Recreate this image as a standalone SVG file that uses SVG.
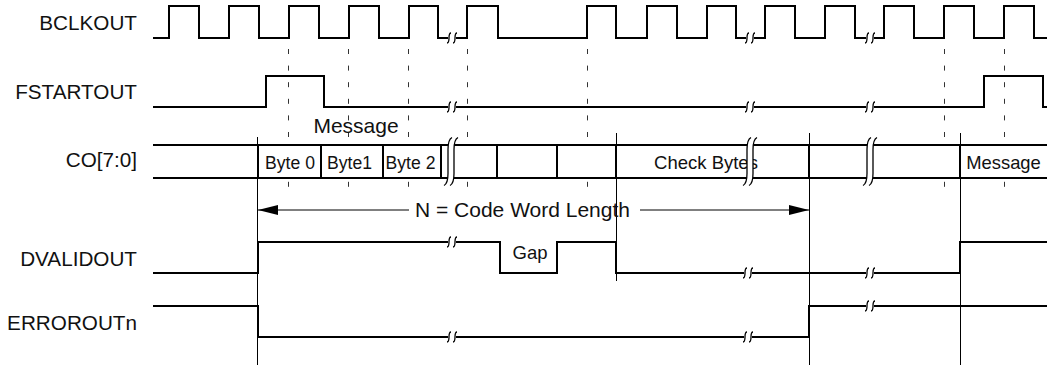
<svg xmlns="http://www.w3.org/2000/svg" xmlns:xlink="http://www.w3.org/1999/xlink" width="1047" height="365" viewBox="0 0 1047 365">
<style>
  .sig{fill:none;stroke:#000;stroke-width:2;stroke-linejoin:miter;stroke-linecap:butt}
  .thin{fill:none;stroke:#000;stroke-width:1}
  .dash{fill:none;stroke:#333;stroke-width:1;stroke-dasharray:5 11.6}
  .lbl{font-family:"Liberation Sans",Arial,sans-serif;font-size:20.7px;fill:#111;text-anchor:end}
  .txt{font-family:"Liberation Sans",Arial,sans-serif;fill:#111;text-anchor:middle}
  .brk{fill:none;stroke:#000;stroke-width:1.3}
</style>
<defs>
  <marker id="ah" viewBox="0 0 20 10" refX="20" refY="5" markerWidth="20" markerHeight="10" orient="auto" markerUnits="userSpaceOnUse">
    <path d="M0,0 L20,5 L0,10 z" fill="#000"/>
  </marker>
  <g id="sb">
    <rect x="-4" y="-4" width="8" height="8" fill="#fff"/>
    <path class="brk" d="M-5,5 C-3,5 -3,3 -3,0 C-3,-3 -3,-5 -1,-5"/>
    <path class="brk" d="M1,5 C3,5 3,3 3,0 C3,-3 3,-5 5,-5"/>
  </g>
  <g id="bb">
    <path d="M1,-24 Q-3,-22 -3,-12 L-3,12 Q-3,22 -7,24 L-1,24 Q3,22 3,12 L3,-12 Q3,-22 7,-24 z" fill="#fff"/>
    <path class="brk" d="M1,-24 Q-3,-22 -3,-12 L-3,12 Q-3,22 -7,24"/>
    <path class="brk" d="M7,-24 Q3,-22 3,-12 L3,12 Q3,22 -1,24"/>
  </g>
</defs>
<rect width="1047" height="365" fill="#fff"/>

<g id="guides">
  <line class="dash" x1="288.5" y1="49" x2="288.5" y2="187"/>
  <line class="dash" x1="348.5" y1="49" x2="348.5" y2="187"/>
  <line class="dash" x1="408.5" y1="49" x2="408.5" y2="187"/>
  <line class="dash" x1="467.5" y1="49" x2="467.5" y2="187"/>
  <line class="dash" x1="587.5" y1="49" x2="587.5" y2="187"/>
  <line class="dash" x1="944.5" y1="49" x2="944.5" y2="187"/>
  <line class="dash" x1="1004.5" y1="49" x2="1004.5" y2="187"/>
</g>

<g id="BCLKOUT">
  <text class="lbl" x="137" y="30">BCLKOUT</text>
  <path class="sig" d="M153,38 H169 V6 H199 V38 H229 V6 H259 V38 H289 V6 H319 V38 H349 V6 H379 V38 H409 V6 H438 V38 H467 V6 H498 V38 H587 V6 H616 V38 H647 V6 H677 V38 H707 V6 H736 V38 H765 V6 H795 V38 H825 V6 H855 V38 H884 V6 H914 V38 H944 V6 H974 V38 H1004 V6 H1034 V38 H1047"/>
  <use xlink:href="#sb" x="452" y="38"/>
  <use xlink:href="#sb" x="750" y="38"/>
  <use xlink:href="#sb" x="870" y="38"/>
</g>

<g id="FSTARTOUT">
  <text class="lbl" x="137" y="98.5">FSTARTOUT</text>
  <path class="sig" d="M153,107 H266 V76 H324 V107 H984 V76 H1043 V107 H1047"/>
  <use xlink:href="#sb" x="452" y="107"/>
  <use xlink:href="#sb" x="750" y="107"/>
  <use xlink:href="#sb" x="870" y="107"/>
  <text class="txt" x="356" y="132.5" font-size="21">Message</text>
</g>

<g id="CO">
  <text class="lbl" x="137" y="167">CO[7:0]</text>
  <rect x="153" y="145" width="894" height="33" fill="#fff"/>
  <text class="txt" x="290" y="168.5" font-size="17.6">Byte 0</text>
  <text class="txt" x="349.5" y="168.5" font-size="17.6">Byte1</text>
  <text class="txt" x="410.5" y="168.5" font-size="17.6">Byte 2</text>
  <text class="txt" x="706" y="168.5" font-size="18.5">Check Bytes</text>
  <text class="txt" x="1003.5" y="168.5" font-size="18.4">Message</text>
  <path class="sig" d="M153,145 H1047 M153,178 H1047"/>
  <path class="sig" d="M258,145 V178 M321,145 V178 M383,145 V178 M441,145 V178 M497,145 V178 M557,145 V178 M616,145 V178 M809,145 V178 M960,145 V178"/>
  <use xlink:href="#bb" x="451" y="161.5"/>
  <use xlink:href="#bb" x="750" y="161.5"/>
  <use xlink:href="#bb" x="870" y="161.5"/>
</g>

<g id="DVALIDOUT">
  <text class="lbl" x="137" y="266">DVALIDOUT</text>
  <path class="sig" d="M153,273 H258 V242 H500 V273 H557 V242 H616 V273 H960 V242 H1047"/>
  <use xlink:href="#sb" x="452" y="242"/>
  <use xlink:href="#sb" x="748" y="273"/>
  <use xlink:href="#sb" x="870" y="273"/>
  <text class="txt" x="530" y="259" font-size="18.5">Gap</text>
</g>

<g id="ERROROUTn">
  <text class="lbl" x="137" y="329.5">ERROROUTn</text>
  <path class="sig" d="M153,306 H258 V337 H809 V306 H1047"/>
  <use xlink:href="#sb" x="452" y="337"/>
  <use xlink:href="#sb" x="748" y="337"/>
  <use xlink:href="#sb" x="870" y="306"/>
</g>

<g id="connectors">
  <line class="thin" x1="257.5" y1="137" x2="257.5" y2="365"/>
  <line class="thin" x1="616.5" y1="133" x2="616.5" y2="281"/>
  <line class="thin" x1="809.5" y1="133" x2="809.5" y2="365"/>
  <line class="thin" x1="960.5" y1="133" x2="960.5" y2="365"/>
  <line class="thin" x1="409" y1="210" x2="258" y2="210" marker-end="url(#ah)"/>
  <line class="thin" x1="640" y1="210" x2="809" y2="210" marker-end="url(#ah)"/>
  <text class="txt" x="522.5" y="216.5" font-size="21">N = Code Word Length</text>
</g>
</svg>
